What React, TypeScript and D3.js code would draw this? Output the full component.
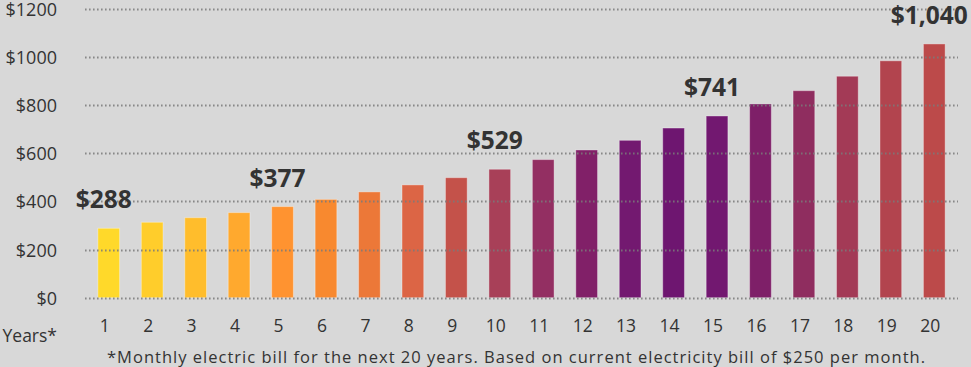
import React, { useEffect, useRef } from 'react';
import * as d3 from 'd3';

const years = ['1', '2', '3', '4', '5', '6', '7', '8', '9', '10', '11', '12', '13', '14', '15', '16', '17', '18', '19', '20'];
const bills = [288, 313, 332, 353, 378, 408, 439, 468, 498, 533, 573, 613, 653, 704, 754, 804, 859, 919, 983, 1053];
const barColors = [
  '#FFD92A', '#FFCD2B', '#FFBD2C', '#FFA92E', '#FF9330', '#F8892F', '#EC7838', '#DC6545', '#C4524A', '#A84058',
  '#932F62', '#812068', '#731970', '#6E1670', '#721870', '#7E1F68', '#8F2D5F', '#A33A56', '#B2444E', '#BC4A4A',
];
const yTicks = [0, 200, 400, 600, 800, 1000, 1200];
// highlighted values printed above some bars
const callouts = [
  { year: '1', text: '$288' },
  { year: '5', text: '$377' },
  { year: '10', text: '$529' },
  { year: '15', text: '$741' },
  { year: '20', text: '$1,040' },
];
const footnote = '*Monthly electric bill for the next 20 years. Based on current electricity bill of $250 per month.';

const W = 971;
const H = 367;
const FONT = '"Open Sans", Lato, sans-serif';

const BillChart: React.FC = () => {
  const svgRef = useRef<SVGSVGElement>(null);

  useEffect(() => {
    if (!svgRef.current) return;
    const svg = d3.select(svgRef.current);
    svg.selectAll('*').remove();

    svg.append('rect').attr('width', W).attr('height', H).attr('fill', '#d8d8d8');

    const x = d3.scaleBand<string>().domain(years).range([87, 956]).paddingInner(0.5).paddingOuter(0.25);
    const y = d3.scaleLinear().domain([0, 1200]).range([297.7, 8.5]);

    // bars
    svg.append('g')
      .selectAll('rect')
      .data(bills)
      .enter()
      .append('rect')
      .attr('x', (_, i) => x(years[i])!)
      .attr('width', x.bandwidth())
      .attr('y', d => y(d))
      .attr('height', d => y(0) - y(d))
      .attr('fill', (_, i) => barColors[i])
      .attr('stroke', 'rgba(255,255,255,0.35)')
      .attr('stroke-width', 1);

    // dotted gridlines on top of bars
    svg.append('g')
      .selectAll('line')
      .data(yTicks)
      .enter()
      .append('line')
      .attr('x1', 85)
      .attr('x2', 958)
      .attr('y1', d => Math.round(y(d)) + 0.5)
      .attr('y2', d => Math.round(y(d)) + 0.5)
      .attr('stroke', '#7a7a7a')
      .attr('stroke-opacity', 0.85)
      .attr('stroke-width', 2)
      .attr('stroke-dasharray', '1.6,2.4');

    // y tick labels
    svg.append('g')
      .selectAll('text')
      .data(yTicks)
      .enter()
      .append('text')
      .attr('x', 57)
      .attr('y', d => y(d) + 7)
      .attr('text-anchor', 'end')
      .style('font-family', FONT)
      .style('font-size', '18px')
      .style('fill', '#333')
      .text(d => `$${d}`);

    // x tick labels
    svg.append('g')
      .selectAll('text')
      .data(years)
      .enter()
      .append('text')
      .attr('x', d => x(d)! + x.bandwidth() / 2 - 4)
      .attr('y', 332)
      .attr('text-anchor', 'middle')
      .style('font-family', FONT)
      .style('font-size', '17.5px')
      .style('fill', '#333')
      .text(d => d);

    svg.append('text')
      .attr('x', 57)
      .attr('y', 342)
      .attr('text-anchor', 'end')
      .style('font-family', FONT)
      .style('font-size', '17.5px')
      .style('fill', '#333')
      .text('Years*');

    // value callouts
    svg.append('g')
      .selectAll('text')
      .data(callouts)
      .enter()
      .append('text')
      .attr('x', d => x(d.year)! + x.bandwidth() / 2 - 5)
      .attr('y', d => y(bills[years.indexOf(d.year)]) - 20)
      .attr('text-anchor', 'middle')
      .style('font-family', FONT)
      .style('font-size', '24.5px')
      .style('font-weight', 'bold')
      .style('fill', '#333')
      .text(d => d.text);

    svg.append('text')
      .attr('x', 516)
      .attr('y', 363)
      .attr('text-anchor', 'middle')
      .attr('textLength', 818)
      .attr('lengthAdjust', 'spacing')
      .style('font-family', FONT)
      .style('font-size', '16.5px')
      .style('fill', '#333')
      .text(footnote);
  }, []);

  return <svg ref={svgRef} width={W} height={H} style={{ display: 'block' }} />;
};

export default function App() {
  return (
    <div style={{ position: 'absolute', left: 0, top: 0 }}>
      <BillChart />
    </div>
  );
}
